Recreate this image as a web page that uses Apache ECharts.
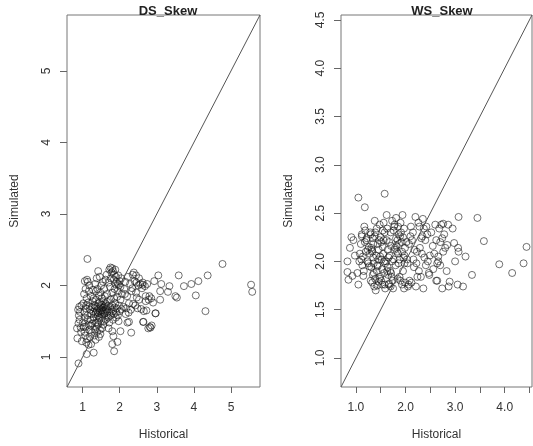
<!DOCTYPE html>
<html>
<head>
<meta charset="utf-8">
<script src="https://cdn.jsdelivr.net/npm/echarts@6/dist/echarts.min.js"></script>
<style>
  html, body { margin: 0; padding: 0; background: #fff; }
  #main { width: 533px; height: 446px; }
</style>
</head>
<body>
<div id="main"></div>
<script>
// [Historical, Simulated] pairs
var dsSkew = [
  // sparse / outliers
  [1.13,2.37],[4.77,2.30],[5.54,2.01],[5.57,1.91],[4.37,2.14],[4.12,2.06],[3.93,2.02],[3.73,1.99],
  [4.05,1.86],[4.31,1.64],[3.59,2.14],[3.34,1.99],[3.30,1.91],[3.54,1.83],[3.50,1.85],[3.04,2.14],
  [3.12,2.02],[2.93,2.06],[3.09,1.92],[3.09,1.80],[2.96,1.61],[2.83,1.41],[2.77,1.40],[2.63,1.49],
  [2.70,1.85],[2.80,1.85],[2.46,1.83],[2.44,1.90],[2.62,2.01],[2.31,1.34],[1.85,1.08],[1.80,1.18],
  [1.94,1.21],[1.80,1.36],[1.83,1.29],[2.02,1.36],[2.21,1.48],[2.25,1.49],[1.30,1.06],[1.11,1.04],
  [0.89,0.91],[2.64,1.49],[2.86,1.44],[2.81,1.42],[2.97,1.61],
  // left edge
  [0.85,1.40],[0.88,1.66],[0.90,1.58],[0.86,1.26],[0.92,1.52],[0.95,1.41],[0.93,1.63],[0.97,1.72],
  [0.89,1.47],[0.98,1.22],[0.96,1.35],[0.91,1.70],
  // 1.0 - 1.3
  [1.02,1.75],[1.05,1.62],[1.04,1.88],[1.08,1.95],[1.06,1.55],[1.03,1.42],[1.07,1.30],[1.10,1.20],
  [1.12,1.25],[1.09,1.68],[1.11,1.82],[1.14,2.05],[1.15,1.76],[1.13,1.58],[1.16,1.45],[1.18,1.38],
  [1.17,1.92],[1.20,1.66],[1.21,1.52],[1.19,1.71],[1.22,1.85],[1.24,1.60],[1.25,1.34],[1.23,1.18],
  [1.26,1.47],[1.27,1.78],[1.28,1.94],[1.29,1.63],[1.12,2.08],[1.06,2.06],[1.18,2.00],[1.01,1.48],
  [1.05,1.35],[1.14,1.52],[1.10,1.72],[1.25,1.70],[1.20,1.28],[1.16,1.17],[1.08,1.42],[1.22,1.44],
  // 1.3 - 1.7 (densest)
  [1.30,1.55],[1.32,1.68],[1.33,1.72],[1.35,1.48],[1.34,1.60],[1.36,1.80],[1.38,1.65],[1.37,1.42],
  [1.40,1.70],[1.41,1.58],[1.42,1.62],[1.43,1.75],[1.44,1.52],[1.45,1.68],[1.46,1.64],[1.47,1.38],
  [1.48,1.71],[1.50,1.60],[1.51,1.66],[1.52,1.73],[1.53,1.56],[1.54,1.69],[1.55,1.62],[1.56,1.78],
  [1.57,1.65],[1.58,1.50],[1.59,1.70],[1.60,1.61],[1.62,1.67],[1.63,1.74],[1.64,1.58],[1.65,1.66],
  [1.66,1.88],[1.67,1.63],[1.68,1.71],[1.69,1.55],[1.32,1.30],[1.35,1.24],[1.39,1.35],[1.42,1.45],
  [1.44,1.28],[1.48,1.32],[1.52,1.40],[1.38,2.10],[1.42,2.20],[1.46,2.12],[1.40,1.95],[1.50,2.00],
  [1.55,2.05],[1.48,1.90],[1.58,1.95],[1.62,2.08],[1.36,1.92],[1.44,1.86],[1.52,1.82],[1.60,1.85],
  [1.34,2.02],[1.65,2.15],[1.30,1.82],[1.46,1.76],[1.58,1.60],[1.62,1.52],[1.40,1.48],[1.33,1.38],
  [1.56,1.45],[1.50,1.50],[1.45,1.55],[1.36,1.62],[1.54,1.64],[1.61,1.72],[1.66,1.77],
  // 1.7 - 2.1
  [1.72,2.22],[1.75,2.25],[1.78,2.18],[1.80,2.24],[1.82,2.20],[1.85,2.15],[1.88,2.22],[1.76,2.10],
  [1.84,2.08],[1.90,2.12],[1.92,2.05],[1.95,2.02],[1.98,2.00],[2.00,2.06],[2.02,1.98],[1.86,1.95],
  [1.94,1.92],[1.80,1.90],[1.74,1.98],[1.70,2.04],[1.96,2.14],[2.04,2.10],[1.88,2.02],[1.72,1.62],
  [1.74,1.70],[1.76,1.58],[1.78,1.66],[1.80,1.72],[1.82,1.64],[1.84,1.60],[1.86,1.69],[1.88,1.75],
  [1.90,1.62],[1.92,1.68],[1.95,1.58],[1.98,1.72],[2.00,1.64],[2.02,1.80],[2.05,1.67],[1.76,1.80],
  [1.85,1.82],[1.93,1.84],[2.06,1.88],[1.72,1.48],[1.82,1.52],[1.90,1.55],[1.97,1.50],[1.70,1.40],
  // 2.1 - 2.9
  [2.10,1.70],[2.12,1.95],[2.15,2.05],[2.18,1.68],[2.20,1.85],[2.22,2.12],[2.25,1.75],[2.28,2.02],
  [2.30,1.66],[2.32,1.92],[2.35,2.15],[2.38,2.18],[2.40,2.06],[2.42,1.72],[2.45,2.04],[2.48,1.68],
  [2.50,2.00],[2.52,1.80],[2.55,2.02],[2.58,1.67],[2.60,1.96],[2.65,1.64],[2.68,1.99],[2.70,1.78],
  [2.74,2.02],[2.16,1.60],[2.24,1.62],[2.36,1.74],[2.44,2.14],[2.52,2.10],[2.62,2.04],[2.72,1.65],
  [2.78,1.80],[2.85,1.82],[2.90,1.76],[2.14,1.88],[2.34,1.96]
];

var wsSkew = [
  // sparse / outliers
  [1.05,2.66],[1.58,2.70],[1.18,2.56],[4.44,2.15],[3.89,1.97],[4.15,1.88],[4.38,1.98],[3.58,2.21],
  [3.45,2.45],[3.07,2.46],[3.34,1.86],[3.21,2.05],[3.07,2.10],[3.06,2.14],[3.00,2.00],[2.98,2.19],
  [3.16,1.74],[3.05,1.76],[2.89,1.79],[2.87,1.74],[2.74,1.72],[2.83,1.90],[2.76,2.10],[2.84,2.17],
  [2.95,2.34],[2.86,2.38],[2.76,2.39],[2.64,1.80],
  // left edge
  [0.83,2.00],[0.83,1.89],[0.85,1.81],[0.88,2.14],[0.91,2.25],[0.93,1.85],[1.05,1.76],[1.03,1.88],
  [1.07,2.00],[1.08,2.08],[0.95,2.22],[0.98,2.06],
  // 1.1 - 1.3
  [1.10,2.18],[1.21,2.22],[1.14,2.05],[1.27,1.95],[1.12,2.26],[1.24,2.12],[1.16,1.90],[1.29,2.30],
  [1.18,2.20],[1.11,2.02],[1.26,2.15],[1.15,1.85],[1.22,2.24],[1.28,2.08],[1.13,1.96],[1.25,1.98],
  [1.19,2.32],[1.30,1.80],[1.17,2.36],[1.23,2.00],[1.20,2.10],[1.12,2.28],
  // 1.3 - 1.6
  [1.31,2.14],[1.47,2.22],[1.36,1.88],[1.52,2.02],[1.39,2.30],[1.58,1.76],[1.33,2.10],[1.44,1.95],
  [1.56,2.40],[1.35,2.18],[1.49,1.84],[1.41,2.06],[1.59,1.72],[1.38,2.26],[1.53,1.92],[1.32,2.12],
  [1.46,1.79],[1.57,2.00],[1.42,2.34],[1.34,1.86],[1.51,2.20],[1.37,1.74],[1.55,2.08],[1.43,1.96],
  [1.30,2.28],[1.48,1.82],[1.54,2.15],[1.40,1.70],[1.58,2.30],[1.45,2.02],[1.33,1.78],[1.50,2.25],
  [1.36,1.98],[1.57,1.88],[1.44,2.18],[1.39,1.82],[1.53,1.76],[1.31,1.94],[1.48,2.38],[1.42,1.90],
  [1.56,2.22],[1.35,2.04],[1.51,1.80],[1.46,2.12],[1.38,2.42],[1.59,1.98],[1.43,1.75],[1.54,2.32],
  [1.34,2.24],[1.49,2.05],
  // 1.6 - 2.0
  [1.62,2.48],[1.83,2.10],[1.71,1.88],[1.95,2.25],[1.66,1.76],[1.88,2.02],[1.77,2.36],[1.64,1.94],
  [1.92,2.20],[1.74,1.80],[1.86,2.28],[1.68,2.06],[1.97,1.72],[1.79,2.14],[1.63,1.90],[1.90,2.40],
  [1.72,1.84],[1.84,2.22],[1.98,1.98],[1.81,2.45],[1.67,1.77],[1.93,2.10],[1.76,2.32],[1.61,2.00],
  [1.87,2.18],[1.70,1.74],[1.96,2.04],[1.78,2.38],[1.65,1.86],[1.89,2.26],[1.73,2.00],[1.99,1.78],
  [1.82,2.16],[1.94,2.48],[1.69,1.90],[1.85,2.08],[1.75,1.72],[1.91,2.30],[1.64,2.12],[1.80,1.96],
  [1.97,2.34],[1.70,2.30],[1.86,1.98],[1.62,2.22],[1.78,2.12],[1.93,1.76],[1.67,2.20],[1.84,1.82],
  [1.99,2.14],[1.73,2.42],[1.88,1.84],[1.66,2.04],[1.81,2.24],[1.95,1.90],[1.76,2.02],[1.90,1.80],
  [1.63,2.34],[1.85,2.36],[1.71,2.16],[1.98,2.06],
  // 2.0 - 2.5
  [2.02,2.20],[2.24,1.84],[2.11,2.36],[2.38,2.04],[2.05,1.74],[2.29,2.14],[2.17,1.94],[2.44,2.28],
  [2.08,1.80],[2.33,2.08],[2.20,2.46],[2.47,1.88],[2.13,2.22],[2.36,1.72],[2.03,2.02],[2.26,2.40],
  [2.41,1.96],[2.15,2.30],[2.31,1.84],[2.07,2.18],[2.22,1.98],[2.35,2.44],[2.49,2.06],[2.10,2.26],
  [2.27,1.90],[2.42,2.36],[2.18,2.12],[2.04,1.98],[2.32,2.24],[2.45,2.00],[2.12,1.78],[2.37,2.34],
  [2.23,2.10],[2.06,1.76],[2.40,2.22],[2.28,2.36],[2.16,2.02],[2.48,1.86],[2.21,1.74],[2.34,2.26],
  // 2.5 - 2.8
  [2.52,2.30],[2.55,2.16],[2.58,2.08],[2.60,2.38],[2.62,2.22],[2.64,1.98],[2.66,2.00],[2.68,2.34],
  [2.70,1.96],[2.72,2.38],[2.74,2.24],[2.78,2.28],[2.80,2.14],[2.56,1.92],[2.62,1.80],[2.66,2.05],
  [2.70,2.20]
];

// axis ranges (same on both axes, the 1:1 line runs corner to corner)
var dsRange = [0.58, 5.78];
var wsRange = [0.70, 4.55];

var dsTicks = [1, 2, 3, 4, 5];
var wsXTicks = [1, 1.5, 2, 2.5, 3, 3.5, 4, 4.5];
var wsXLabels = [1, 2, 3, 4];
var wsYTicks = [1, 1.5, 2, 2.5, 3, 3.5, 4, 4.5];

var txt = '#333';
var font = 'Liberation Sans, Arial, sans-serif';

function axis(idx, range, ticks, labels, fmt, isY) {
  return {
    type: 'value',
    gridIndex: idx,
    min: range[0],
    max: range[1],
    name: isY ? 'Simulated' : 'Historical',
    nameLocation: 'middle',
    nameGap: isY ? 46 : 42,
    nameRotate: isY ? 90 : 0,
    nameTextStyle: { color: txt, fontSize: 12, fontFamily: font },
    splitLine: { show: false },
    axisLine: { show: false },
    axisTick: { show: true, inside: false, length: isY ? 7 : 6, customValues: ticks, lineStyle: { color: '#666' } },
    axisLabel: {
      customValues: labels,
      rotate: isY ? 90 : 0,
      margin: isY ? 14 : 15,
      color: txt, fontSize: 12, fontFamily: font,
      formatter: function (v) { return fmt ? v.toFixed(1) : String(v); }
    }
  };
}

var myChart = echarts.init(document.getElementById('main'));
myChart.setOption({
  animation: false,
  backgroundColor: '#fff',
  title: [
    { text: 'DS_Skew', left: 163, top: 0, textAlign: 'center',
      textStyle: { fontSize: 13, fontWeight: 'bold', color: '#222', fontFamily: font } },
    { text: 'WS_Skew', left: 437, top: 0, textAlign: 'center',
      textStyle: { fontSize: 13, fontWeight: 'bold', color: '#222', fontFamily: font } }
  ],
  grid: [
    { left: 67, top: 15, width: 193, height: 378, show: true, borderColor: '#777', borderWidth: 1 },
    { left: 341, top: 15, width: 191, height: 380, show: true, borderColor: '#777', borderWidth: 1 }
  ],
  xAxis: [
    axis(0, dsRange, dsTicks, dsTicks, false, false),
    axis(1, wsRange, wsXTicks, wsXLabels, true, false)
  ],
  yAxis: [
    axis(0, dsRange, dsTicks, dsTicks, false, true),
    axis(1, wsRange, wsYTicks, wsYTicks, true, true)
  ],
  series: [
    {
      type: 'line', xAxisIndex: 0, yAxisIndex: 0,
      data: [[dsRange[0], dsRange[0]], [dsRange[1], dsRange[1]]],
      symbol: 'none', lineStyle: { color: '#555', width: 1 }
    },
    {
      type: 'scatter', xAxisIndex: 0, yAxisIndex: 0, data: dsSkew,
      symbol: 'circle', symbolSize: 7,
      itemStyle: { color: 'transparent', borderColor: 'rgba(20,20,20,0.75)', borderWidth: 1 }
    },
    {
      type: 'line', xAxisIndex: 1, yAxisIndex: 1,
      data: [[wsRange[0], wsRange[0]], [wsRange[1], wsRange[1]]],
      symbol: 'none', lineStyle: { color: '#555', width: 1 }
    },
    {
      type: 'scatter', xAxisIndex: 1, yAxisIndex: 1, data: wsSkew,
      symbol: 'circle', symbolSize: 7,
      itemStyle: { color: 'transparent', borderColor: 'rgba(20,20,20,0.75)', borderWidth: 1 }
    }
  ]
});
</script>
</body>
</html>
